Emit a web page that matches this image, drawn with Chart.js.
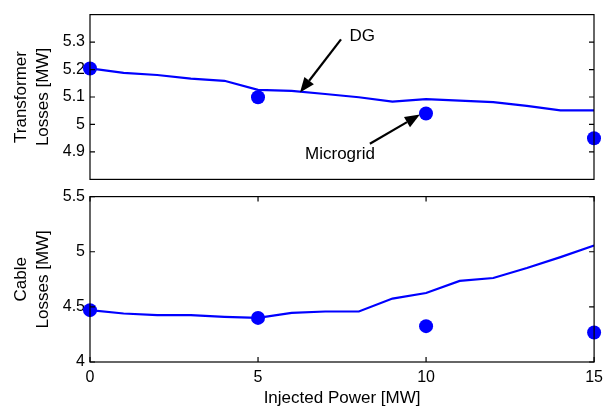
<!DOCTYPE html>
<html>
<head>
<meta charset="utf-8">
<script src="https://cdn.jsdelivr.net/npm/chart.js@4.4.1/dist/chart.umd.min.js"></script>
<style>
  body { margin: 0; background: #fff; overflow: hidden; }
  #wrap { position: relative; width: 607px; height: 409px; overflow: hidden; }
  canvas { position: absolute; left: 0; }
</style>
</head>
<body>
<div id="wrap">
  <canvas id="cableChart" width="609" height="227" style="top:182px"></canvas>
  <canvas id="trafoChart" width="607" height="194" style="top:0"></canvas>
</div>
<script>
// losses vs injected power, DG line and microgrid points
var injectedPower = [0, 1, 2, 3, 4, 5, 6, 7, 8, 9, 10, 11, 12, 13, 14, 15];
var dgTransformer = [5.204, 5.188, 5.180, 5.167, 5.159, 5.126, 5.122, 5.111, 5.099, 5.083, 5.092, 5.087, 5.081, 5.068, 5.051, 5.051];
var dgCable = [4.47, 4.44, 4.425, 4.425, 4.41, 4.40, 4.445, 4.458, 4.458, 4.575, 4.626, 4.735, 4.762, 4.852, 4.951, 5.057];

var microgridPower = [0, 5, 10, 15];
var microgridTransformer = [5.204, 5.099, 5.04, 4.95];
var microgridCable = [4.47, 4.40, 4.325, 4.268];

var trafoTicks = [4.9, 5, 5.1, 5.2, 5.3];
var cableTicks = [4, 4.5, 5, 5.5];
var powerTicks = [0, 5, 10, 15];

Chart.defaults.font.family = 'Arial, "Liberation Sans", sans-serif';
Chart.defaults.font.size = 16;
Chart.defaults.color = '#000';

function points(xs, ys) {
  return xs.map(function (x, i) { return { x: x, y: ys[i] }; });
}

function fixedTicks(values) {
  return function (scale) {
    scale.ticks = values.map(function (v) { return { value: v }; });
  };
}

// box around the plot area with short inward tick marks
var framePlugin = {
  id: 'frame',
  afterDraw: function (chart) {
    var ctx = chart.ctx, a = chart.chartArea;
    var xs = chart.scales.x, ys = chart.scales.y;
    var len = 5;
    ctx.save();
    ctx.strokeStyle = '#000';
    ctx.lineWidth = 1.2;
    ctx.strokeRect(a.left, a.top, a.right - a.left, a.bottom - a.top);
    ctx.beginPath();
    ys.ticks.forEach(function (t) {
      var y = ys.getPixelForValue(t.value);
      ctx.moveTo(a.left, y); ctx.lineTo(a.left + len, y);
      ctx.moveTo(a.right, y); ctx.lineTo(a.right - len, y);
    });
    if (xs.options.display) {
      xs.ticks.forEach(function (t) {
        var x = xs.getPixelForValue(t.value);
        ctx.moveTo(x, a.bottom); ctx.lineTo(x, a.bottom - len);
        ctx.moveTo(x, a.top); ctx.lineTo(x, a.top + len);
      });
    }
    ctx.stroke();
    ctx.restore();
  }
};

// text labels with arrows, positioned in data units
function arrowsPlugin(notes) {
  return {
    id: 'arrows',
    afterDraw: function (chart) {
      var ctx = chart.ctx, xs = chart.scales.x, ys = chart.scales.y;
      ctx.save();
      ctx.fillStyle = '#000';
      ctx.strokeStyle = '#000';
      ctx.font = '17px Arial, "Liberation Sans", sans-serif';
      ctx.textAlign = 'center';
      ctx.textBaseline = 'middle';
      notes.forEach(function (n) {
        var tx = xs.getPixelForValue(n.text[0]), ty = ys.getPixelForValue(n.text[1]);
        ctx.fillText(n.label, tx, ty);
        var x0 = xs.getPixelForValue(n.from[0]), y0 = ys.getPixelForValue(n.from[1]);
        var x1 = xs.getPixelForValue(n.to[0]), y1 = ys.getPixelForValue(n.to[1]);
        var ang = Math.atan2(y1 - y0, x1 - x0);
        var head = 15, half = 6;
        var bx = x1 - head * Math.cos(ang), by = y1 - head * Math.sin(ang);
        ctx.lineWidth = 2.2;
        ctx.beginPath();
        ctx.moveTo(x0, y0);
        ctx.lineTo(bx, by);
        ctx.stroke();
        ctx.beginPath();
        ctx.moveTo(x1, y1);
        ctx.lineTo(bx + half * Math.sin(ang), by - half * Math.cos(ang));
        ctx.lineTo(bx - half * Math.sin(ang), by + half * Math.cos(ang));
        ctx.closePath();
        ctx.fill();
      });
      ctx.restore();
    }
  };
}

function makeChart(id, opts) {
  return new Chart(document.getElementById(id), {
    type: 'line',
    data: {
      datasets: [{
        label: 'DG',
        data: points(injectedPower, opts.dg),
        borderColor: '#0000ff',
        borderWidth: 2.2,
        pointRadius: 0,
        tension: 0
      }, {
        label: 'Microgrid',
        data: points(microgridPower, opts.micro),
        showLine: false,
        pointStyle: 'circle',
        pointRadius: 7,
        backgroundColor: '#0000ff',
        borderColor: '#0000ff',
        borderWidth: 0,
        clip: false
      }]
    },
    options: {
      responsive: false,
      animation: false,
      events: [],
      layout: { padding: opts.padding },
      plugins: { legend: { display: false }, tooltip: { enabled: false } },
      scales: {
        x: {
          type: 'linear',
          display: opts.showX,
          min: 0,
          max: 15,
          afterBuildTicks: fixedTicks(powerTicks),
          afterFit: function (s) { s.height = opts.showX ? 47 : 0; },
          grid: { display: false, drawTicks: false },
          border: { display: false },
          ticks: { padding: 6, maxRotation: 0 },
          title: {
            display: true,
            text: 'Injected Power [MW]',
            font: { size: 17 },
            padding: { top: 0, bottom: 0 }
          }
        },
        y: {
          min: opts.yMin,
          max: opts.yMax,
          afterBuildTicks: fixedTicks(opts.yTicks),
          afterFit: function (s) { s.width = 90; },
          grid: { display: false, drawTicks: false },
          border: { display: false },
          ticks: {
            padding: 5,
            callback: function (v) { return String(v); }
          },
          title: {
            display: true,
            text: opts.yTitle,
            font: { size: 17, lineHeight: 1.25 },
            padding: { top: 11, bottom: 0 }
          }
        }
      }
    },
    plugins: [framePlugin, arrowsPlugin(opts.notes)]
  });
}

makeChart('trafoChart', {
  dg: dgTransformer,
  micro: microgridTransformer,
  yMin: 4.8, yMax: 5.4,
  yTicks: trafoTicks,
  yTitle: ['Transformer', 'Losses [MW]'],
  showX: false,
  padding: { top: 13, right: 13, bottom: 7, left: 0 },
  notes: [
    { label: 'DG', text: [8.1, 5.322], from: [7.47, 5.31], to: [6.25, 5.116] },
    { label: 'Microgrid', text: [7.44, 4.89], from: [8.33, 4.93], to: [9.82, 5.036] }
  ]
});

makeChart('cableChart', {
  dg: dgCable,
  micro: microgridCable,
  yMin: 4, yMax: 5.5,
  yTicks: cableTicks,
  yTitle: ['Cable', 'Losses [MW]'],
  showX: true,
  padding: { top: 6, right: 11, bottom: 0, left: 0 },
  notes: []
});
</script>
</body>
</html>
